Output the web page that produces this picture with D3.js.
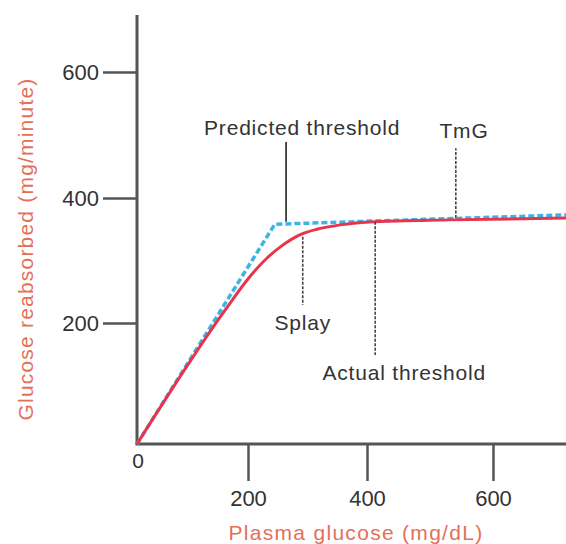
<!DOCTYPE html>
<html>
<head>
<meta charset="utf-8">
<script src="https://cdn.jsdelivr.net/npm/d3@7"></script>
<style>
  html, body { margin: 0; padding: 0; background: #fff; }
  svg { display: block; }
  text { font-family: "Liberation Sans", Arial, Helvetica, sans-serif; }
</style>
</head>
<body>
<svg id="chart" width="566" height="544"></svg>
<script>
// ---- data (plasma glucose mg/dL, glucose reabsorbed mg/min) ----
const xTicks = [200, 400, 600];
const yTicks = [200, 400, 600];
const predictedX = [0, 245, 716];
const predictedY = [0, 358, 373];
const actualX = [0, 159, 203, 232, 259, 287, 316, 355, 413, 532, 716];
const actualY = [0, 221, 274, 304, 325, 341, 350, 357, 362, 365, 368];
const annLabels = ["Predicted threshold", "TmG", "Splay", "Actual threshold"];
const annLineX = [264, 541, 292, 413];
const annLineY1 = [362, 368, 338, 362];
const annLineY2 = [489, 479, 229, 147];
const annTextX = [291, 554, 292, 459];
const annTextY = [500, 495, 188, 106];
const xTitle = "Plasma glucose (mg/dL)";
const yTitle = "Glucose reabsorbed (mg/minute)";

const svg = d3.select("#chart");

// hand-drawn axes are slightly uneven -> piecewise linear scales
const x = d3.scaleLinear().domain([0, 200, 400, 600, 716]).range([137, 248, 367, 493, 566]);
const y = d3.scaleLinear().domain([0, 200, 400, 600, 690]).range([444, 323, 198, 72, 15]);

const axisColor = "#555";
const textColor = "#333";
const titleColor = "#e4705a";

// axis lines
svg.append("line").attr("x1", x(0)).attr("x2", x(0)).attr("y1", y(690)).attr("y2", y(0))
  .attr("stroke", axisColor).attr("stroke-width", 3);
svg.append("line").attr("x1", x(0) - 1.5).attr("x2", x(716)).attr("y1", y(0)).attr("y2", y(0))
  .attr("stroke", axisColor).attr("stroke-width", 3);

// y axis ticks
const gy = svg.append("g").attr("transform", `translate(${x(0)},0)`)
  .call(d3.axisLeft(y).tickValues(yTicks).tickSize(34).tickPadding(4).tickFormat(d3.format("d")));
gy.select(".domain").remove();
gy.selectAll(".tick line").attr("stroke", axisColor).attr("stroke-width", 2.5);
gy.selectAll(".tick text").attr("fill", textColor).style("font-size", "22px")
  .style("font-family", "Liberation Sans, Arial, sans-serif");

// x axis ticks
const gx = svg.append("g").attr("transform", `translate(0,${y(0)})`)
  .call(d3.axisBottom(x).tickValues(xTicks).tickSize(37).tickPadding(9).tickFormat(d3.format("d")));
gx.select(".domain").remove();
gx.selectAll(".tick line").attr("stroke", axisColor).attr("stroke-width", 2.5);
gx.selectAll(".tick text").attr("fill", textColor).style("font-size", "22px")
  .style("font-family", "Liberation Sans, Arial, sans-serif");

// origin label
svg.append("text").attr("x", x(0) + 1).attr("y", 468).attr("text-anchor", "middle")
  .attr("fill", textColor).style("font-size", "21px").text("0");

// predicted (dashed blue)
const predicted = predictedX.map((d, i) => [d, predictedY[i]]);
svg.append("path").datum(predicted)
  .attr("d", d3.line().x(d => x(d[0])).y(d => y(d[1])))
  .attr("fill", "none").attr("stroke", "#3cb4e6").attr("stroke-width", 3.5)
  .attr("stroke-dasharray", "6,3");

// actual (solid red)
const actual = actualX.map((d, i) => [d, actualY[i]]);
svg.append("path").datum(actual)
  .attr("d", d3.line().x(d => x(d[0])).y(d => y(d[1])).curve(d3.curveMonotoneX))
  .attr("fill", "none").attr("stroke", "#e8344c").attr("stroke-width", 3);

// annotation leader lines and labels
annLabels.forEach((lab, i) => {
  svg.append("line")
    .attr("x1", x(annLineX[i])).attr("x2", x(annLineX[i]))
    .attr("y1", y(annLineY1[i])).attr("y2", y(annLineY2[i]))
    .attr("stroke", i === 0 ? "#222" : "#444").attr("stroke-width", 1.6)
    .attr("stroke-dasharray", i === 0 ? null : "3,1.5");
  svg.append("text")
    .attr("x", x(annTextX[i])).attr("y", y(annTextY[i]))
    .attr("text-anchor", "middle").attr("fill", textColor)
    .style("font-size", "21px").style("letter-spacing", "0.8px")
    .text(lab);
});

// axis titles
svg.append("text").attr("x", 356).attr("y", 540).attr("text-anchor", "middle")
  .attr("fill", titleColor).style("font-size", "21px").style("letter-spacing", "1.3px")
  .text(xTitle);
svg.append("text").attr("transform", "translate(33,249) rotate(-90)").attr("text-anchor", "middle")
  .attr("fill", titleColor).style("font-size", "21px").style("letter-spacing", "1.2px")
  .text(yTitle);
</script>
</body>
</html>
